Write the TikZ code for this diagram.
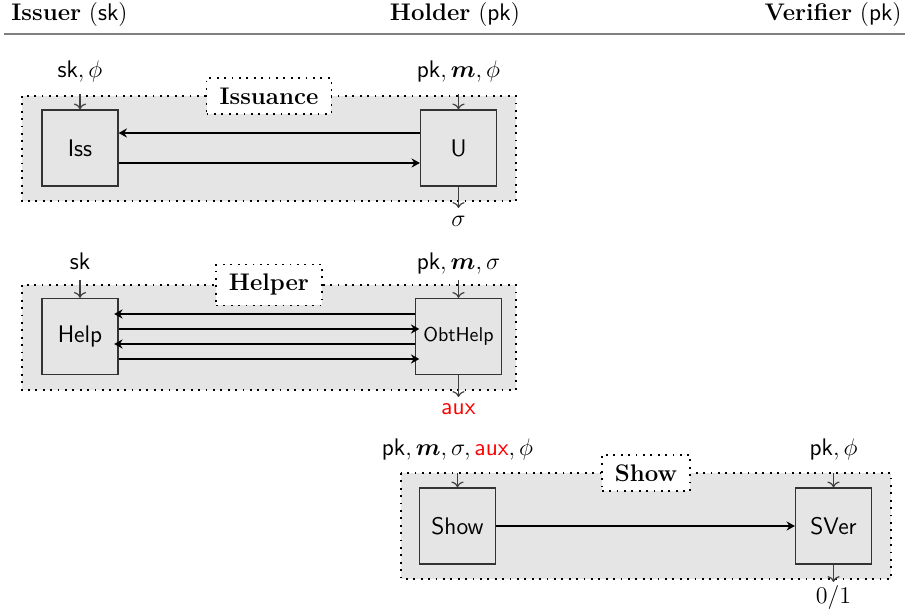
\documentclass[12pt,tikz,border=0pt]{standalone}
\usepackage{bm}
\usepackage{xcolor}
\usetikzlibrary{arrows.meta}

\tikzset{
	algbox/.style={draw=black!80, fill=gray!20, line width=0.6pt, minimum width=38pt, minimum height=38pt, inner sep=1pt, font=\sffamily},
	phasebox/.style={draw, line width=0.9pt, dash pattern=on 0.9pt off 2.8pt, fill=gray!20},
	phaselabel/.style={draw, line width=0.9pt, dash pattern=on 0.9pt off 2.8pt, fill=white, font=\bfseries, inner xsep=6.5pt, inner ysep=4.9pt},
	msg/.style={-{Stealth[length=4.2pt,width=4.6pt,inset=1.4pt]}, line width=0.75pt},
	io/.style={->, draw=black!75, line width=0.6pt},
}

\begin{document}
\begin{tikzpicture}[x=0.5pt,y=0.5pt,yscale=-1,xscale=1]
	\useasboundingbox (0,0) rectangle (905,613); %set diagram size to 905 x 613

	% Header
	\node (hIssuer) [anchor=base west, inner sep=0pt] at (11,21) {\textbf{Issuer} ($\mathsf{sk}$)};
	\node (hHolder) [anchor=base, inner sep=0pt] at (455,21) {\textbf{Holder} ($\mathsf{pk}$)};
	\node (hVerifier) [anchor=base east, inner sep=0pt] at (902,21) {\textbf{Verifier} ($\mathsf{pk}$)};
	\draw [draw=black!50, line width=1pt] (4,34) -- (905,34);

	%% Issuance
	\draw [phasebox] (22,96) rectangle (516,201);
	\node (issLabel) [phaselabel] at (269,96) {Issuance};
	% Text Node
	\node (Iss) [algbox] at (80,148) {Iss};
	\node (U) [algbox] at (458.5,148) {U};
	% Text Node
	\node (issInL) [anchor=base, inner sep=0pt] at (80,78) {$\mathsf{sk}, \phi$};
	\node (uInL) [anchor=base, inner sep=0pt] at (458.5,78) {$\mathsf{pk}, \bm{m}, \phi$};
	\node (uOutL) [anchor=base, inner sep=0pt] at (458.5,227) {$\sigma$};
	\coordinate (issIn) at (80,94);
	\coordinate (uIn) at (458.5,94);
	\coordinate (uOut) at (458.5,208);
	% Connection
	\draw [io] (issIn) -- (Iss.north);
	\draw [io] (uIn) -- (U.north);
	\draw [io] (U.south) -- (uOut);
	\draw [msg] ([yshift=-7.5pt]U.west) -- ([yshift=-7.5pt]Iss.east);
	\draw [msg] ([yshift=7.5pt]Iss.east) -- ([yshift=7.5pt]U.west);

	%% Helper
	\draw [phasebox] (22,285) rectangle (516,390);
	\node (helpLabel) [phaselabel] at (269,285) {Helper};
	% Text Node
	\node (Help) [algbox] at (80,336.5) {Help};
	\node (ObtHelp) [algbox, minimum width=43pt] at (458.5,336.5) {\footnotesize ObtHelp};
	% Text Node
	\node (helpInL) [anchor=base, inner sep=0pt] at (80,270) {$\mathsf{sk}$};
	\node (obtInL) [anchor=base, inner sep=0pt] at (458.5,270) {$\mathsf{pk}, \bm{m}, \sigma$};
	\node (obtOutL) [anchor=base, inner sep=0pt] at (458.5,415) {\textcolor{red}{$\mathsf{aux}$}};
	\coordinate (helpIn) at (80,280);
	\coordinate (obtIn) at (458.5,280);
	\coordinate (obtOut) at (458.5,397);
	% Connection
	\draw [io] (helpIn) -- (Help.north);
	\draw [io] (obtIn) -- (ObtHelp.north);
	\draw [io] (ObtHelp.south) -- (obtOut);
	\draw [msg, shorten >=-2.2pt] ([yshift=-11.25pt]ObtHelp.west) -- ([yshift=-11.25pt]Help.east);
	\draw [msg, shorten >=-2.2pt] ([yshift=-3.75pt]Help.east) -- ([yshift=-3.75pt]ObtHelp.west);
	\draw [msg, shorten >=-2.2pt] ([yshift=3.75pt]ObtHelp.west) -- ([yshift=3.75pt]Help.east);
	\draw [msg, shorten >=-2.2pt] ([yshift=11.25pt]Help.east) -- ([yshift=11.25pt]ObtHelp.west);

	%% Show
	\draw [phasebox] (401,473) rectangle (891,579);
	\node (showLabel) [phaselabel] at (646,473) {Show};
	% Text Node
	\node (Show) [algbox] at (457.5,526) {Show};
	\node (SVer) [algbox] at (833.5,526) {SVer};
	% Text Node
	\node (showInL) [anchor=base, inner sep=0pt] at (457.5,456) {$\mathsf{pk}, \bm{m}, \sigma, \textcolor{red}{\mathsf{aux}}, \phi$};
	\node (sverInL) [anchor=base, inner sep=0pt] at (833.5,456) {$\mathsf{pk}, \phi$};
	\node (sverOutL) [anchor=base, inner sep=0pt] at (833.5,604) {$0/1$};
	\coordinate (showIn) at (457.5,473);
	\coordinate (sverIn) at (833.5,473);
	\coordinate (sverOut) at (833.5,582);
	% Connection
	\draw [io] (showIn) -- (Show.north);
	\draw [io] (sverIn) -- (SVer.north);
	\draw [io] (SVer.south) -- (sverOut);
	\draw [msg] (Show.east) -- (SVer.west);

\end{tikzpicture}
\end{document}
